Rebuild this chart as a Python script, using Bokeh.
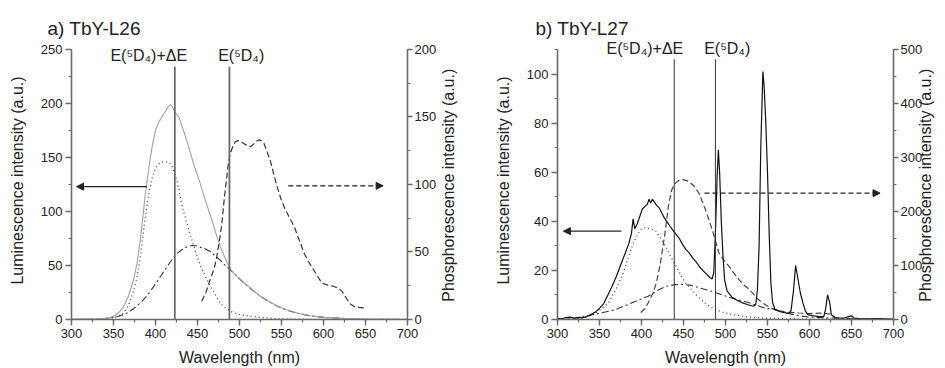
import math
from bokeh.plotting import figure
from bokeh.models import (Range1d, LinearAxis, SingleIntervalTicker, Arrow, NormalHead, Label)
from bokeh.layouts import row
from bokeh.embed import file_html
from bokeh.resources import INLINE

FONT = "Liberation Sans"

# ---------------- panel a) TbY-L26 ----------------
a_lum_wl = [300, 310, 320, 330, 340, 345, 350, 356, 362, 368, 374, 378, 382, 385, 388, 392, 396, 400, 404,
            408, 412, 415, 418, 420, 422, 425, 428, 432, 437, 442, 447, 452, 457, 462, 468, 473, 479, 485,
            490, 497, 505, 513, 523, 533, 545, 557, 570, 585, 600, 625, 650, 675, 700]
a_lum = [0.3, 0.5, 0.6, 0.5, 1.0, 1.5, 3, 6, 12, 22, 37, 52, 74, 95, 117, 140, 160, 175, 183,
         188, 193, 197, 199, 197, 194, 190, 187, 178, 166, 153, 140, 129, 116, 104, 90, 77, 64, 53,
         46, 40, 34.5, 29, 22.5, 17.5, 12.5, 8.8, 5.8, 3.5, 2, 1, 0.5, 0.3, 0.2]

a_dot_wl = [300, 340, 350, 356, 362, 368, 374, 378, 382, 385, 388, 392, 396, 400, 405, 410, 415, 419, 423,
            426, 429, 432, 437, 442, 448, 454, 460, 466, 472, 477, 483, 489, 500, 513, 530, 545, 570, 600, 700]
a_dot = [0, 0.5, 1.5, 3, 6, 13, 27, 39, 58, 77, 96, 116, 131, 140, 145, 146, 146, 143, 135,
         127, 116, 104, 90, 77, 62, 49, 39, 30, 22, 15, 11, 7.7, 4.5, 3, 1.5, 0.8, 0.3, 0.1, 0]

a_dd_wl = [300, 330, 340, 350, 358, 366, 374, 382, 390, 398, 406, 414, 420, 426, 432, 438, 444, 448, 453,
           459, 465, 471, 477, 483, 489, 497, 505, 515, 525, 535, 545, 557, 570, 585, 600, 625, 650, 700]
a_dd = [0, 0.3, 0.8, 1.8, 3.5, 6, 10, 15.4, 22, 30.7, 40, 49, 56, 61.5, 65, 67.5, 68.5, 68.3, 67,
        65.5, 63, 59, 55, 50, 46, 40, 34, 27.5, 21.5, 16.5, 12.3, 8.5, 5.5, 3.3, 2, 0.8, 0.3, 0]

a_phos_wl = [455, 460, 465, 470, 473, 476, 479, 481, 483, 485, 487, 489, 492, 495, 498, 502, 506, 510, 513,
             517, 520, 523, 526, 529, 533, 537, 541, 545, 549, 553, 559, 565, 571, 577, 582, 588, 593, 598,
             605, 612, 618, 622, 628, 632, 636, 642, 648]
a_phos = [13.5, 20, 29.5, 38, 46.7, 58, 71, 84, 96, 106, 117, 123, 128, 131.6, 132.5, 131.5, 130, 128.5, 128,
          130, 132, 133, 132.5, 130.6, 124, 117, 107, 98, 90, 83.6, 76, 69, 59, 49, 43, 37, 32, 27,
          25.5, 24.6, 23, 21, 15, 11.5, 9.8, 9, 8.6]

a_levels = [423, 488]
a_level_top = [234, 234]
a_level_text = ["E(\u2075D\u2084)+\u0394E", "E(\u2075D\u2084)"]
a_level_text_x = [392, 502]
a_level_text_y = 244
a_arrow_lum = (390, 306, 123)     # x_start, x_end, y (left axis)
a_arrow_phos = (558, 671, 99)     # x_start, x_end, y (right axis)

# ---------------- panel b) TbY-L27 ----------------
b_lum_wl = [300, 305, 310, 315, 320, 325, 330, 335, 340, 345, 350, 355, 360, 365, 370, 375, 380, 385, 388,
            390, 392, 395, 398, 401, 404, 407, 409, 411, 413, 415, 418, 421, 424, 427, 430, 434, 437, 441,
            445, 449, 453, 457, 461, 465, 469, 473, 477, 481, 484, 486, 488, 490, 491.5, 493, 495, 497, 499,
            502, 508, 514, 520, 527, 533, 536, 538, 540, 542, 544.5, 546, 548, 550, 552, 554, 556, 559, 565,
            570, 575, 578, 581, 583.5, 586, 589, 592, 595, 598, 605, 612, 617, 619, 621.5, 624, 626, 630,
            640, 647, 650, 653, 660, 670, 680, 690, 700]
b_lum = [0.5, 0.3, 0.8, 1.0, 0.6, 0.9, 0.7, 1.2, 2, 3, 4.5, 6.5, 10, 13.5, 17.5, 22, 26.5, 31, 35,
         41, 37, 39, 42, 45, 46, 47, 49, 47.5, 49, 48, 46.5, 45.5, 43.5, 41.5, 40, 38, 36.5, 34.8,
         33, 30.5, 28.5, 27, 25, 23.5, 21.5, 20, 18.6, 17.2, 16.5, 19, 35, 58, 69, 60, 40, 26, 16,
         11.6, 9, 7.8, 6.8, 6, 5.4, 6, 12, 30, 70, 101, 95, 80, 60, 35, 15, 7, 4, 3.2,
         2.8, 2.5, 3.5, 12, 22, 17, 11, 7, 3.5, 2, 1.5, 1.2, 1.2, 4, 10, 7, 2, 0.8,
         0.5, 1.2, 1.5, 0.6, 0.4, 0.3, 0.4, 0.3, 0.2]

b_dot_wl = [300, 320, 333, 345, 355, 361, 369, 377, 383, 389, 395, 400, 405, 411, 417, 423, 429, 435, 441,
            447, 452, 460, 468, 478, 488, 498, 508, 528, 548, 580, 700]
b_dot = [0, 0.2, 0.8, 2.5, 5, 7, 12, 17.7, 24, 30, 34.5, 37, 37.5, 37, 36, 33, 29.5, 25.5, 21.8,
         18, 15, 12, 9, 6, 4, 2.8, 2, 1, 0.5, 0.2, 0]

b_dd_wl = [300, 320, 333, 350, 369, 390, 408, 420, 429, 440, 448, 458, 468, 478, 488, 496, 510, 528, 548,
           560, 575, 587, 600, 625, 650, 700]
b_dd = [0, 0.4, 1.4, 2.5, 4, 7, 9.5, 12, 13.5, 14.2, 14.3, 14, 13, 12, 11, 10, 8.5, 6.8, 4.5,
        4, 2.5, 1.5, 1, 0.6, 0.3, 0]

b_phos_wl = [399, 404, 408, 414, 418, 422, 425, 428, 432, 436, 440, 444, 450, 456, 462, 468, 472, 476, 480,
             484, 488, 492, 498, 504, 510, 516, 522, 528, 534, 539, 545, 552, 559, 570, 587, 600, 615, 625, 630]
b_phos = [13, 20, 31, 50, 70, 100, 130, 160, 210, 240, 252, 257, 259, 256, 248, 235, 220, 204, 186,
          167, 146, 124, 110, 99, 86, 74, 64, 56, 46, 37, 30, 23, 18, 14, 12, 11, 12, 10, 5]

b_levels = [439, 488]
b_level_top = [106, 106]
b_level_text = ["E(\u2075D\u2084)+\u0394E", "E(\u2075D\u2084)"]
b_level_text_x = [404, 502]
b_level_text_y = 110.4
b_arrow_lum = (376, 307, 36)
b_arrow_phos = (475, 684, 234)

AX = "#6a6a6a"
TXT = "#222222"
PHOS_LABEL = "Phosphorescence intensity (a.u.)"
HAS_ALIGN = "axis_label_align" in LinearAxis.properties()

TOP_BORDER = 41
EXTEND = 279 / 271     # plot area reaches a little above the last axis value so top texts are not cut


def style_axis(ax, label, standoff, tick_out=6, label_standoff=3):
    ax.axis_label = label
    ax.axis_label_text_font = FONT
    ax.axis_label_text_font_size = "16px"
    ax.axis_label_text_font_style = "normal"
    ax.axis_label_text_color = TXT
    ax.axis_label_standoff = standoff
    ax.major_label_text_font = FONT
    ax.major_label_text_font_size = "13px"
    ax.major_label_text_color = TXT
    ax.major_label_standoff = label_standoff
    ax.axis_line_color = AX
    ax.axis_line_width = 1.6
    ax.major_tick_line_color = AX
    ax.major_tick_line_width = 1.4
    ax.minor_tick_line_color = AX
    ax.minor_tick_line_width = 1.2
    ax.major_tick_out = tick_out
    ax.major_tick_in = 0
    ax.minor_tick_out = 3
    ax.minor_tick_in = 0


def make_panel(title, title_offset, width, yshown, ystep, pshown, pstep, border_left, border_right,
               right_label_standoff):
    p = figure(output_backend="svg", toolbar_location=None,
               width=width, height=368,
               min_border_left=border_left, min_border_right=border_right,
               min_border_top=TOP_BORDER, min_border_bottom=48,
               x_range=Range1d(300, 700), y_range=Range1d(0, yshown * EXTEND),
               title=title)
    p.title.text_font = FONT
    p.title.text_font_size = "19px"
    p.title.text_font_style = "normal"
    p.title.text_color = TXT
    p.title.align = "left"
    p.title.offset = title_offset
    p.title.standoff = 6
    p.outline_line_color = None
    p.grid.visible = False
    p.background_fill_color = "white"
    p.border_fill_color = "white"
    p.extra_y_ranges = {"phos": Range1d(0, pshown * EXTEND)}
    p.xaxis.ticker = SingleIntervalTicker(interval=50, num_minor_ticks=2)
    p.yaxis.ticker = SingleIntervalTicker(interval=ystep, num_minor_ticks=2)
    p.yaxis.bounds = (0, yshown)
    style_axis(p.xaxis[0], "Wavelength (nm)", 8)
    style_axis(p.yaxis[0], "Luminescence intensity (a.u.)", 12)
    rax = LinearAxis(y_range_name="phos", ticker=SingleIntervalTicker(interval=pstep, num_minor_ticks=2),
                     bounds=(0, pshown))
    if HAS_ALIGN:
        style_axis(rax, "\u00a0\u00a0\u00a0\u00a0" + PHOS_LABEL, right_label_standoff,
                   tick_out=5, label_standoff=2)
        rax.axis_label_orientation = math.pi / 2
        rax.axis_label_align = "start"
    else:
        style_axis(rax, PHOS_LABEL, 2, tick_out=5, label_standoff=2)
    p.add_layout(rax, "right")
    return p


def head():
    return NormalHead(size=7, fill_color="#222222", line_color="#222222")


# ----- panel a -----
pa = make_panel("a) TbY-L26", -24, 468, 250, 50, 200, 50, 71, 61, 9)
pa.line(a_dd_wl, a_dd, line_color="#333333", line_width=1.1, line_dash="7 3 2 3")
pa.line(a_dot_wl, a_dot, line_color="#444444", line_width=1.3, line_dash="1 3")
pa.line(a_lum_wl, a_lum, line_color="#a0a0a0", line_width=1.1)
pa.line(a_phos_wl, a_phos, line_color="#333333", line_width=1.2, line_dash="6 3", y_range_name="phos")
pa.segment(x0=a_levels, y0=[0, 0], x1=a_levels, y1=a_level_top, line_color="#6a6a6a", line_width=1.8)
for tx, t in zip(a_level_text_x, a_level_text):
    pa.add_layout(Label(x=tx, y=a_level_text_y, text=t, text_align="center", text_baseline="middle",
                        text_font=FONT, text_font_size="16px", text_color=TXT))
pa.add_layout(Arrow(end=head(), x_start=a_arrow_lum[0], y_start=a_arrow_lum[2],
                    x_end=a_arrow_lum[1], y_end=a_arrow_lum[2], line_color="#222222", line_width=1.2))
pa.add_layout(Arrow(end=head(), x_start=a_arrow_phos[0], y_start=a_arrow_phos[2],
                    x_end=a_arrow_phos[1], y_end=a_arrow_phos[2], line_color="#222222", line_width=1.2,
                    line_dash="5 3", y_range_name="phos"))

# ----- panel b -----
pb = make_panel("b) TbY-L27", -22, 477, 110, 20, 500, 100, 89, 52, 0)
pb.line(b_dd_wl, b_dd, line_color="#333333", line_width=1.1, line_dash="7 3 2 3")
pb.line(b_dot_wl, b_dot, line_color="#444444", line_width=1.3, line_dash="1 3")
pb.line(b_phos_wl, b_phos, line_color="#444444", line_width=1.2, line_dash="6 3", y_range_name="phos")
pb.line(b_lum_wl, b_lum, line_color="#111111", line_width=1.2)
pb.segment(x0=b_levels, y0=[0, 0], x1=b_levels, y1=b_level_top, line_color="#333333", line_width=1.0)
for tx, t in zip(b_level_text_x, b_level_text):
    pb.add_layout(Label(x=tx, y=b_level_text_y, text=t, text_align="center", text_baseline="middle",
                        text_font=FONT, text_font_size="16px", text_color=TXT))
pb.add_layout(Arrow(end=head(), x_start=b_arrow_lum[0], y_start=b_arrow_lum[2],
                    x_end=b_arrow_lum[1], y_end=b_arrow_lum[2], line_color="#222222", line_width=1.2))
pb.add_layout(Arrow(end=head(), x_start=b_arrow_phos[0], y_start=b_arrow_phos[2],
                    x_end=b_arrow_phos[1], y_end=b_arrow_phos[2], line_color="#222222", line_width=1.2,
                    line_dash="5 3", y_range_name="phos"))

layout = row(pa, pb)
open("out.html", "w").write(file_html(layout, INLINE))
